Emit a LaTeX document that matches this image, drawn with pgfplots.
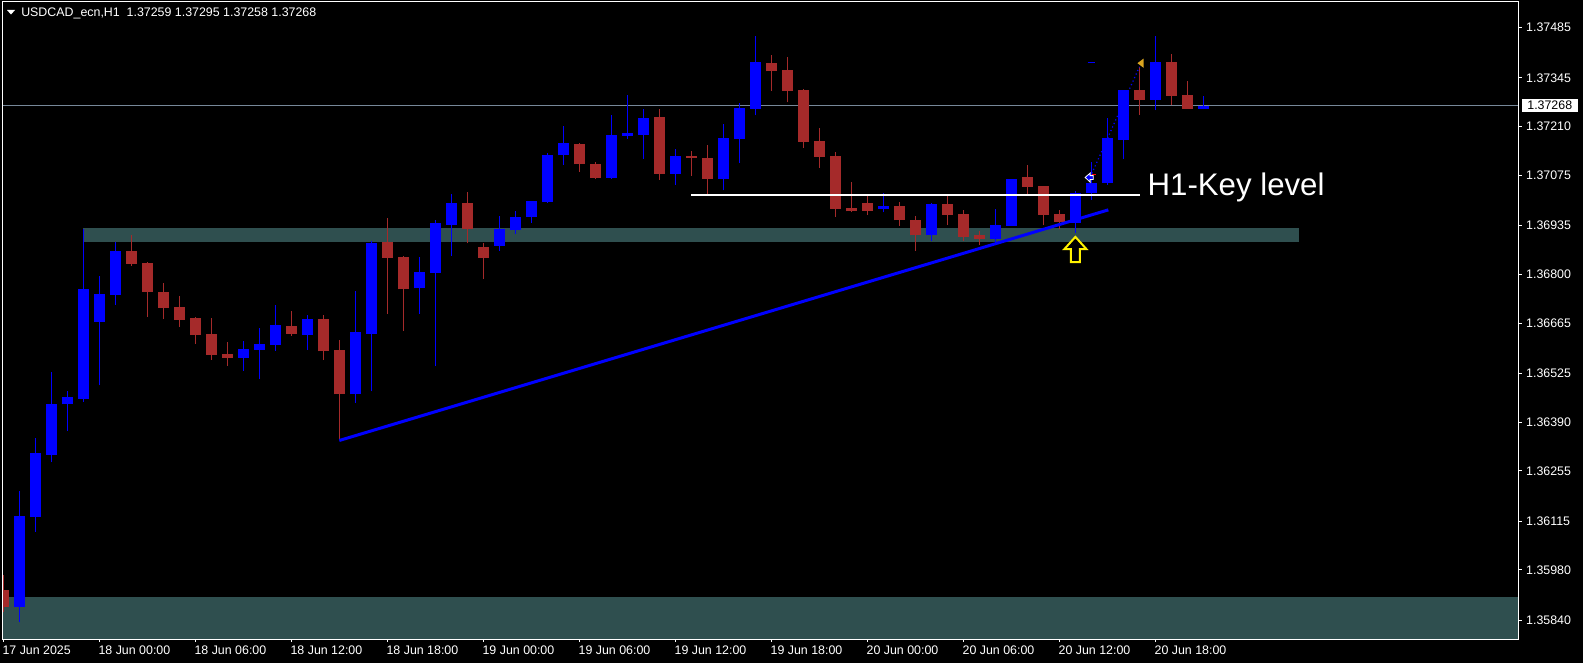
\documentclass[border=0pt]{standalone}
\usepackage{fontspec}
\setmainfont{Liberation Sans}
\usepackage{pgfplots}
\usepackage{pgfplotstable}
\pgfplotsset{compat=1.18}

\definecolor{bullc}{RGB}{0,0,255}
\definecolor{bearc}{RGB}{165,42,42}
\definecolor{zone}{RGB}{47,79,79}
\definecolor{pricegray}{RGB}{119,136,153}
\definecolor{tradeor}{RGB}{218,165,32}

% USDCAD H1, bar index k = 0 is 17 Jun 18:00
\pgfplotstableread{
k  o       h       l       c
1  1.35878 1.36200 1.35835 1.36130
2  1.36127 1.36347 1.36086 1.36303
3  1.36299 1.36530 1.36279 1.36441
4  1.36439 1.36475 1.36365 1.36460
5  1.36455 1.36927 1.36446 1.36758
6  1.36668 1.36796 1.36492 1.36746
7  1.36743 1.36889 1.36716 1.36865
15 1.36569 1.36616 1.36533 1.36593
16 1.36591 1.36652 1.36509 1.36607
17 1.36605 1.36716 1.36588 1.36660
19 1.36632 1.36687 1.36591 1.36676
22 1.36467 1.36754 1.36444 1.36641
23 1.36635 1.36893 1.36475 1.36887
26 1.36761 1.36848 1.36691 1.36807
27 1.36804 1.36952 1.36545 1.36943
28 1.36938 1.37022 1.36852 1.36999
31 1.36879 1.36961 1.36865 1.36926
32 1.36924 1.36976 1.36913 1.36959
33 1.36960 1.37004 1.36943 1.37004
34 1.37001 1.37136 1.36999 1.37131
35 1.37130 1.37212 1.37104 1.37165
38 1.37068 1.37242 1.37064 1.37187
39 1.37184 1.37298 1.37175 1.37191
40 1.37187 1.37258 1.37120 1.37234
42 1.37079 1.37147 1.37049 1.37129
45 1.37064 1.37218 1.37033 1.37179
46 1.37175 1.37276 1.37110 1.37261
47 1.37259 1.37462 1.37241 1.37389
55 1.36981 1.37026 1.36972 1.36990
58 1.36909 1.36999 1.36893 1.36995
62 1.36898 1.36982 1.36890 1.36938
63 1.36935 1.37064 1.36935 1.37064
67 1.36943 1.37030 1.36916 1.37025
68 1.37025 1.37112 1.37007 1.37054
69 1.37054 1.37233 1.37049 1.37179
70 1.37173 1.37312 1.37119 1.37312
72 1.37284 1.37462 1.37256 1.37389
75 1.37259 1.37295 1.37258 1.37268
}\bull

\pgfplotstableread{
k  o       h       l       c
0  1.35923 1.35965 1.35863 1.35878
8  1.36865 1.36909 1.36823 1.36829
9  1.36832 1.36834 1.36682 1.36752
10 1.36752 1.36777 1.36676 1.36707
11 1.36710 1.36741 1.36655 1.36674
12 1.36679 1.36681 1.36607 1.36632
13 1.36635 1.36679 1.36563 1.36577
14 1.36580 1.36613 1.36546 1.36569
18 1.36657 1.36699 1.36630 1.36635
20 1.36676 1.36687 1.36563 1.36586
21 1.36591 1.36618 1.36339 1.36467
24 1.36890 1.36956 1.36691 1.36846
25 1.36848 1.36850 1.36643 1.36758
29 1.36999 1.37029 1.36886 1.36925
30 1.36876 1.36886 1.36788 1.36846
36 1.37162 1.37165 1.37085 1.37105
37 1.37106 1.37111 1.37064 1.37068
41 1.37236 1.37259 1.37062 1.37079
43 1.37129 1.37142 1.37073 1.37124
44 1.37123 1.37159 1.37022 1.37064
48 1.37387 1.37408 1.37310 1.37363
49 1.37368 1.37403 1.37277 1.37310
50 1.37312 1.37315 1.37152 1.37168
51 1.37170 1.37206 1.37096 1.37127
52 1.37128 1.37140 1.36960 1.36981
53 1.36983 1.37056 1.36972 1.36975
54 1.36999 1.37018 1.36966 1.36977
56 1.36990 1.37001 1.36935 1.36950
57 1.36951 1.36961 1.36866 1.36908
59 1.36995 1.37018 1.36938 1.36965
60 1.36968 1.36979 1.36892 1.36904
61 1.36908 1.36921 1.36882 1.36899
64 1.37070 1.37104 1.37024 1.37043
65 1.37045 1.37045 1.36938 1.36965
66 1.36968 1.36978 1.36927 1.36946
71 1.37312 1.37375 1.37243 1.37284
73 1.37389 1.37412 1.37269 1.37295
74 1.37298 1.37337 1.37259 1.37259
}\bear

\begin{document}
\begin{tikzpicture}
\fill[black] (0,0) rectangle (1187.25pt,-497.25pt);
\begin{axis}[
  at={(1.5pt,-479.25pt)}, anchor=south west,
  scale only axis, width=1137.75pt, height=477.75pt,
  xmin=-0.08, xmax=94.72, ymin=1.357881, ymax=1.375558,
  axis on top,
  axis line style={white, line width=0.75pt},
  tick style={white, line width=0.75pt},
  tick align=outside, major tick length=2.25pt,
  xtick pos=bottom, ytick pos=right, yticklabel pos=right,
  xtick={0,6,...,72},
  xticklabels={17 Jun 2025, 18 Jun 00:00, 18 Jun 06:00, 18 Jun 12:00, 18 Jun 18:00,
    19 Jun 00:00, 19 Jun 06:00, 19 Jun 12:00, 19 Jun 18:00, 20 Jun 00:00,
    20 Jun 06:00, 20 Jun 12:00, 20 Jun 18:00},
  ytick={1.37485,1.37345,1.37210,1.37075,1.36935,1.36800,1.36665,1.36525,
    1.36390,1.36255,1.36115,1.35980,1.35840},
  yticklabels={1.37485,1.37345,1.37210,1.37075,1.36935,1.36800,1.36665,1.36525,
    1.36390,1.36255,1.36115,1.35980,1.35840},
  tick label style={font=\fontsize{9.3}{11}\selectfont, text=white, inner sep=0pt},
  xticklabel style={anchor=north west, xshift=-0.75pt, yshift=-3pt},
  yticklabel style={anchor=west, xshift=3pt},
  extra y ticks={1.37268}, extra y tick labels={1.37268},
  extra y tick style={major tick length=0pt,
    yticklabel style={fill=white, text=black, inner xsep=4.1pt, inner ysep=1.7pt, xshift=-1pt}},
  candle/.style={draw=none, mark=none, forget plot, error bars/.cd,
    y dir=plus, y explicit, error mark=none},
]
% zones
\fill[zone] (axis cs:5,1.36891) rectangle (axis cs:81,1.36928);
\fill[zone] (axis cs:-1,1.357) rectangle (axis cs:96,1.35905);
% current price
\draw[pricegray, line width=0.75pt] (axis cs:-1,1.37268) -- (axis cs:96,1.37268);

% wicks
\addplot[candle, error bar style={draw=bullc, line width=0.75pt}]
  table[x=k, y=l, y error plus expr=\thisrow{h}-\thisrow{l}] {\bull};
\addplot[candle, error bar style={draw=bearc, line width=0.75pt}]
  table[x=k, y=l, y error plus expr=\thisrow{h}-\thisrow{l}] {\bear};
% bodies
\addplot[candle, error bar style={draw=bullc, line width=8.25pt, line cap=butt}]
  table[x=k, y=o, y error plus expr=\thisrow{c}-\thisrow{o}] {\bull};
\addplot[candle, error bar style={draw=bearc, line width=8.25pt, line cap=butt}]
  table[x=k, y=c, y error plus expr=\thisrow{o}-\thisrow{c}] {\bear};

% trend line and key level
\addplot[bullc, line width=2.25pt, forget plot] coordinates {(21,1.36339) (69.06,1.36979)};
\addplot[white, line width=1.5pt, forget plot] coordinates {(43.0,1.37020) (71.04,1.37020)};
\node[anchor=base west, inner sep=0pt, text=white, font=\fontsize{23.4}{26}\selectfont]
  at (axis cs:71.5,1.37020) {H1-Key level};

% trade marks
\draw[bullc, dotted, line width=0.9pt] (axis cs:68.03,1.37080) -- (axis cs:71.0,1.37376);
\fill[tradeor] (axis cs:70.88,1.37386) -- (axis cs:71.27,1.37399) -- (axis cs:71.27,1.37373) -- cycle;
\draw[bullc, line width=0.75pt] (axis cs:67.78,1.37388) -- (axis cs:68.24,1.37388);
\draw[white, fill=bullc, line width=0.6pt] (axis cs:67.61,1.37069) -- (axis cs:67.92,1.37081)
  -- (axis cs:67.92,1.37074) -- (axis cs:68.11,1.37074) -- (axis cs:68.11,1.37063)
  -- (axis cs:67.92,1.37063) -- (axis cs:67.92,1.37056) -- cycle;
\draw[red, line width=0.75pt] (axis cs:68.05,1.37076) -- (axis cs:68.29,1.37076);

% yellow up arrow
\draw[yellow, line width=1.5pt, fill=black] (axis cs:67.0,1.36904) -- (axis cs:67.69,1.36870)
  -- (axis cs:67.28,1.36870) -- (axis cs:67.28,1.36834) -- (axis cs:66.72,1.36834)
  -- (axis cs:66.72,1.36870) -- (axis cs:66.31,1.36870) -- cycle;
\end{axis}

% header
\fill[white] (5.25pt,-7.5pt) -- (11.25pt,-7.5pt) -- (8.25pt,-10.9pt) -- cycle;
\node[anchor=base west, inner sep=0pt, text=white, font=\fontsize{9.3}{11}\selectfont]
  at (15.75pt,-12.75pt) {USDCAD\_ecn,H1\ \ 1.37259 1.37295 1.37258 1.37268};

\pgfresetboundingbox
\path[use as bounding box] (0,0) rectangle (1187.25pt,-497.25pt);
\end{tikzpicture}
\end{document}
